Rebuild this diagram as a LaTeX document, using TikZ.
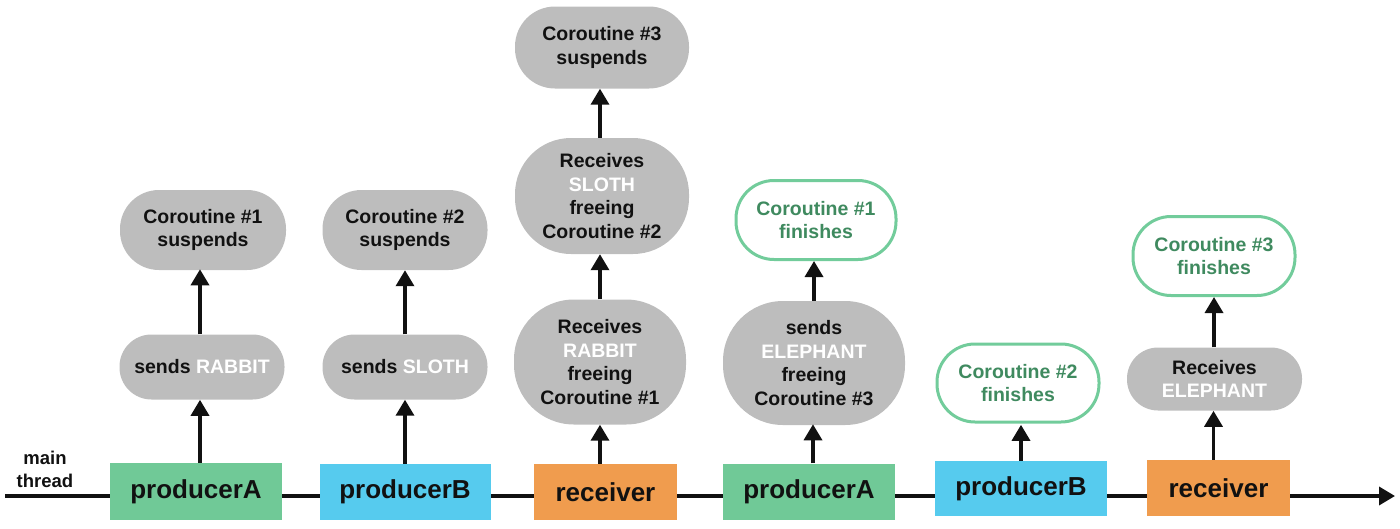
\documentclass[tikz,border=0pt]{standalone}
\usepackage{fontspec}
\setmainfont{Liberation Sans}
\usetikzlibrary{arrows.meta}
\definecolor{pgreen}{HTML}{70C997}
\definecolor{pblue}{HTML}{56CBEE}
\definecolor{porange}{HTML}{F09C4E}
\definecolor{pgray}{HTML}{BDBDBD}
\definecolor{ftext}{HTML}{3F8A5F}
\definecolor{fline}{HTML}{72CC9B}
\definecolor{ink}{HTML}{111111}
\tikzset{
  procbox/.style={rectangle,inner sep=0pt,text=ink,font=\fontsize{26}{30}\selectfont\bfseries},
  graybox/.style={fill=pgray,inner sep=0pt,align=center,text=ink,font=\fontsize{19.5}{23.5}\selectfont\bfseries},
  finbox/.style={fill=white,draw=fline,line width=3pt,inner sep=0pt,align=center,text=ftext,font=\fontsize{19.5}{23.5}\selectfont\bfseries},
  flow/.style={draw=ink,line width=3.5pt,-{Triangle[length=16pt,width=18pt]}}
}
\newcommand{\wt}[1]{\textcolor{white}{#1}}
\begin{document}
\begin{tikzpicture}[x=1pt,y=-1pt]
\useasboundingbox (0,0) rectangle (1400,528);
% main line
\coordinate (start) at (5,496);
\coordinate (finish) at (1395,496);
\draw[flow] (start) -- (finish);
\node[align=center,text=ink,font=\fontsize{18.5}{23}\selectfont\bfseries] (mt) at (45,469) {main\\thread};
% boxes
\node[procbox,fill=pgreen,minimum width=172pt,minimum height=57pt] (pA1) at (196,491.5) {producerA};
\node[procbox,fill=pblue,minimum width=171pt,minimum height=56pt] (pB1) at (405,492) {producerB};
\node[procbox,fill=porange,minimum width=143pt,minimum height=56pt] (r1) at (605.5,492) {receiver};
\node[procbox,fill=pgreen,minimum width=172pt,minimum height=56pt] (pA2) at (809,491.5) {producerA};
\node[procbox,fill=pblue,minimum width=172pt,minimum height=55pt] (pB2) at (1021,488.5) {producerB};
\node[procbox,fill=porange,minimum width=143pt,minimum height=56pt] (r2) at (1218.5,488) {receiver};
% column 1
\node[graybox,minimum width=165pt,minimum height=65pt,rounded corners=32pt] (c1b) at (202,367) {sends \wt{RABBIT}};
\node[graybox,minimum width=166pt,minimum height=80pt,rounded corners=39pt] (c1t) at (203,230) {Coroutine \#1\\suspends};
% column 2
\node[graybox,minimum width=165pt,minimum height=65pt,rounded corners=32pt] (c2b) at (405,367) {sends \wt{SLOTH}};
\node[graybox,minimum width=165pt,minimum height=80pt,rounded corners=39pt] (c2t) at (405,230) {Coroutine \#2\\suspends};
% column 3
\node[graybox,minimum width=172pt,minimum height=125pt,rounded corners=60pt] (c3b) at (600,362) {Receives\\\wt{RABBIT}\\freeing\\Coroutine \#1};
\node[graybox,minimum width=174pt,minimum height=116pt,rounded corners=56pt] (c3m) at (602,196) {Receives\\\wt{SLOTH}\\freeing\\Coroutine \#2};
\node[graybox,minimum width=174pt,minimum height=82pt,rounded corners=40pt] (c3t) at (602,47.5) {Coroutine \#3\\suspends};
% column 4
\node[graybox,minimum width=182pt,minimum height=124pt,rounded corners=60pt] (c4b) at (814,363) {sends\\\wt{ELEPHANT}\\freeing\\Coroutine \#3};
\node[finbox,minimum width=160pt,minimum height=79pt,rounded corners=38pt] (c4t) at (816,220) {Coroutine \#1\\finishes};
% column 5
\node[finbox,minimum width=162pt,minimum height=78pt,rounded corners=38pt] (c5) at (1018,383) {Coroutine \#2\\finishes};
% column 6
\node[graybox,minimum width=175pt,minimum height=63pt,rounded corners=31pt] (c6b) at (1214.5,379) {Receives\\\wt{ELEPHANT}};
\node[finbox,minimum width=162pt,minimum height=79pt,rounded corners=38pt] (c6t) at (1214,256) {Coroutine \#3\\finishes};
% arrows
\draw[flow] (pA1.north -| c1b.south) ++(-2,0) -- ++(0,-63);
\draw[flow] (c1b.north) ++(-2,0) -- ++(0,-65);
\draw[flow] (pB1.north) -- (c2b.south);
\draw[flow] (c2b.north) -- (c2t.south);
\draw[flow] (r1.north -| c3b.south) -- (c3b.south);
\draw[flow] (c3b.north) -- (c3b.north |- c3m.south);
\draw[flow] (c3m.north -| c3b.north) -- (c3b.north |- c3t.south);
\draw[flow] (pA2.north -| c4b.south) ++(-1,0) -- ++(0,-39);
\draw[flow] (c4b.north) -- (c4b.north |- c4t.south);
\draw[flow] (pB2.north -| c5.south) ++(3,0) -- ++(0,-36);
\draw[flow] (r2.north -| c6b.south) ++(-1,0) -- ++(0,-49);
\draw[flow] (c6b.north -| c6t.south) -- (c6t.south);
\end{tikzpicture}
\end{document}
